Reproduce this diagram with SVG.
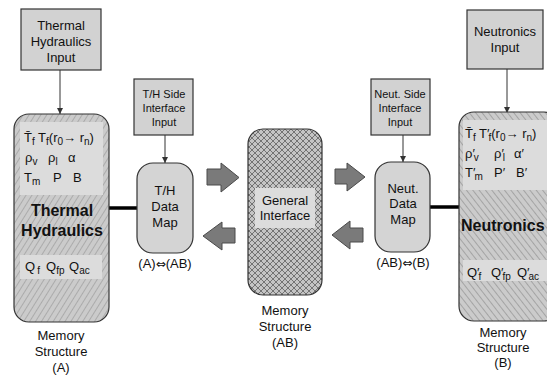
<svg xmlns="http://www.w3.org/2000/svg" width="547" height="379" viewBox="0 0 547 379">
<style>
text{font-family:"Liberation Sans",Arial,sans-serif;fill:#111}
.lbl{font-size:13px;text-anchor:middle}
.sm{font-size:11px;text-anchor:middle}
.var{font-size:13px}
.sub{font-size:10px}
.big{font-size:16px;font-weight:bold}
.dj{font-family:"DejaVu Sans",sans-serif;font-size:12px}
.box{fill:#d2d2d2;stroke:#333;stroke-width:1.2}
.map{fill:#d4d4d4;stroke:#333;stroke-width:1.2}
.mem{stroke:#333;stroke-width:1.2}
.pane{fill:#dcdcdc;stroke:none}
.blk{fill:#7a7a7a;stroke:#4a4a4a;stroke-width:1}
.conn{stroke:#333;stroke-width:1;fill:none;marker-end:url(#ah)}
.thick{stroke:#000;stroke-width:3.5}
</style>
<defs>
<marker id="ah" viewBox="0 0 10 10" refX="10" refY="5" markerWidth="6" markerHeight="6" orient="auto" markerUnits="userSpaceOnUse">
<path d="M0,0 L10,5 L0,10 z" fill="#333"/>
</marker>
<pattern id="hatchA" width="5" height="10" patternUnits="userSpaceOnUse" patternTransform="rotate(32)">
<rect width="5" height="10" fill="#cbcbcb"/>
<line x1="0" y1="0" x2="0" y2="10" stroke="#7a7a7a" stroke-width="0.8"/>
</pattern>
<pattern id="hatchB" width="5" height="10" patternUnits="userSpaceOnUse" patternTransform="rotate(-38)">
<rect width="5" height="10" fill="#cbcbcb"/>
<line x1="0" y1="0" x2="0" y2="10" stroke="#6a6a6a" stroke-width="0.8"/>
</pattern>
<pattern id="cross" width="6" height="6" patternUnits="userSpaceOnUse">
<rect width="6" height="6" fill="#c4c4c4"/>
<path d="M0,0 L6,6 M6,0 L0,6" stroke="#6a6a6a" stroke-width="0.9"/>
</pattern>
</defs>

<g id="connectors">
<line class="conn" x1="60" y1="70" x2="60" y2="114"/>
<line class="conn" x1="507" y1="69" x2="507" y2="113"/>
<line class="conn" x1="165" y1="135" x2="165" y2="163"/>
<line class="conn" x1="403" y1="135" x2="403" y2="162"/>
<line class="thick" x1="109" y1="208" x2="138" y2="208"/>
<line class="thick" x1="430" y1="207" x2="460" y2="207"/>
<polygon class="blk" points="207,169 221,169 221,163 239,177.5 221,192 221,185 207,185"/>
<polygon class="blk" points="203,236 222,222 222,228 235,228 235,243 222,243 222,250"/>
<polygon class="blk" points="335,169 347,169 347,163 365,177 347,191 347,184 335,184"/>
<polygon class="blk" points="332,235 350,221 350,228 363,228 363,242 350,242 350,249"/>
</g>

<g id="th-input">
<rect class="box" x="21" y="9" width="80" height="61"/>
<text class="lbl" x="61" y="30">Thermal</text>
<text class="lbl" x="61" y="46">Hydraulics</text>
<text class="lbl" x="61" y="62">Input</text>
</g>

<g id="neut-input">
<rect class="box" x="467" y="10" width="76" height="59"/>
<text class="lbl" x="505" y="36">Neutronics</text>
<text class="lbl" x="505" y="52">Input</text>
</g>

<g id="th-side-input">
<rect class="box" x="134" y="79" width="59" height="56"/>
<text class="sm" x="164" y="98">T/H Side</text>
<text class="sm" x="164" y="112">Interface</text>
<text class="sm" x="164" y="126">Input</text>
</g>

<g id="neut-side-input">
<rect class="box" x="371" y="79" width="59" height="56"/>
<text class="sm" x="400" y="98">Neut. Side</text>
<text class="sm" x="400" y="112">Interface</text>
<text class="sm" x="400" y="126">Input</text>
</g>

<g id="memory-a">
<rect class="mem" x="14" y="114" width="95" height="208" rx="15" fill="url(#hatchA)"/>
<rect class="pane" x="20" y="122" width="83" height="73"/>
<rect class="pane" x="20" y="255" width="82" height="24"/>
<text class="var" x="24" y="142">T̄<tspan class="sub" dy="3">f</tspan><tspan dy="-3"> T</tspan><tspan class="sub" dy="3">f</tspan><tspan dy="-3">(r</tspan><tspan class="sub" dy="3">0</tspan><tspan dy="-3">→ r</tspan><tspan class="sub" dy="3">n</tspan><tspan dy="-3">)</tspan></text>
<text class="var" x="25" y="162">ρ<tspan class="sub" dy="3">v</tspan></text>
<text class="var" x="48" y="162">ρ<tspan class="sub" dy="3">l</tspan></text>
<text class="var" x="68" y="162">α</text>
<text class="var" x="24" y="182">T<tspan class="sub" dy="3">m</tspan></text>
<text class="var" x="53" y="182">P</text>
<text class="var" x="73" y="182">B</text>
<text class="big" x="62" y="216" text-anchor="middle">Thermal</text>
<text class="big" x="62" y="236" text-anchor="middle">Hydraulics</text>
<text class="var" x="25" y="271">Q<tspan class="sub" dx="2" dy="3">f</tspan></text>
<text class="var" x="46" y="271">Q<tspan class="sub" dy="3">fp</tspan></text>
<text class="var" x="69" y="271">Q<tspan class="sub" dy="3">ac</tspan></text>
<text class="lbl" x="61" y="340">Memory</text>
<text class="lbl" x="61" y="356">Structure</text>
<text class="lbl" x="61" y="372">(A)</text>
</g>

<g id="th-data-map">
<rect class="map" x="137" y="163" width="56" height="90" rx="16"/>
<text class="lbl" x="165" y="195">T/H</text>
<text class="lbl" x="165" y="211">Data</text>
<text class="lbl" x="165" y="227">Map</text>
<text class="lbl" x="165" y="268">(A)<tspan class="dj">⇔</tspan>(AB)</text>
</g>

<g id="general-interface">
<rect class="mem" x="248" y="129" width="74" height="166" rx="15" fill="url(#cross)"/>
<rect class="pane" x="255" y="188" width="60" height="40"/>
<text class="lbl" x="285" y="205">General</text>
<text class="lbl" x="285" y="220">Interface</text>
<text class="lbl" x="285" y="315">Memory</text>
<text class="lbl" x="285" y="331">Structure</text>
<text class="lbl" x="285" y="347">(AB)</text>
</g>

<g id="neut-data-map">
<rect class="map" x="375" y="162" width="55" height="90" rx="16"/>
<text class="lbl" x="403" y="193">Neut.</text>
<text class="lbl" x="403" y="208">Data</text>
<text class="lbl" x="403" y="224">Map</text>
<text class="lbl" x="403" y="267">(AB)<tspan class="dj">⇔</tspan>(B)</text>
</g>

<g id="memory-b">
<rect class="mem" x="459" y="112" width="100" height="209" rx="15" fill="url(#hatchB)"/>
<rect class="pane" x="463" y="120" width="90" height="70"/>
<rect class="pane" x="463" y="260" width="90" height="21"/>
<text class="var" x="465" y="138">T̄<tspan class="sub" dy="3">f</tspan><tspan dy="-3"> T′</tspan><tspan class="sub" dx="-1" dy="3">f</tspan><tspan dy="-3">(r</tspan><tspan class="sub" dy="3">0</tspan><tspan dy="-3">→ r</tspan><tspan class="sub" dy="3">n</tspan><tspan dy="-3">)</tspan></text>
<text class="var" x="465" y="158">ρ′<tspan class="sub" dx="-1" dy="3">v</tspan></text>
<text class="var" x="494" y="158">ρ′<tspan class="sub" dx="-1" dy="3">l</tspan></text>
<text class="var" x="514" y="158">α′</text>
<text class="var" x="465" y="177">T′<tspan class="sub" dx="-1" dy="3">m</tspan></text>
<text class="var" x="494" y="177">P′</text>
<text class="var" x="516" y="177">B′</text>
<text class="big" x="461" y="231">Neutronics</text>
<text class="var" x="467" y="277">Q′<tspan class="sub" dx="-1" dy="3">f</tspan></text>
<text class="var" x="491" y="277">Q′<tspan class="sub" dx="-1" dy="3">fp</tspan></text>
<text class="var" x="517" y="277">Q′<tspan class="sub" dx="-1" dy="3">ac</tspan></text>
<text class="lbl" x="503" y="337">Memory</text>
<text class="lbl" x="503" y="352">Structure</text>
<text class="lbl" x="503" y="367">(B)</text>
</g>
</svg>
